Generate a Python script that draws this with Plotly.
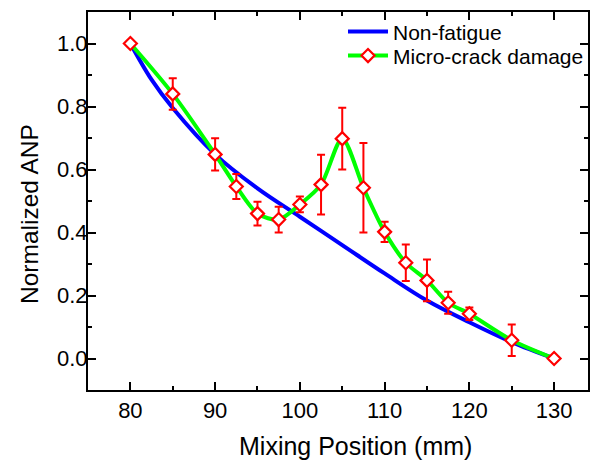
import plotly.graph_objects as go

# Non-fatigue reference curve
nf_x = [80, 82.5, 85, 90, 95, 100, 105, 110, 115, 120, 125, 130]
nf_y = [1.0, 0.885, 0.795, 0.648, 0.54, 0.45, 0.36, 0.27, 0.184, 0.115, 0.052, 0.0]

# Micro-crack damage measurements
mc_x = [80, 85, 90, 92.5, 95, 97.5, 100, 102.5, 105, 107.5, 110, 112.5, 115, 117.5, 120, 125, 130]
mc_y = [1.0, 0.84, 0.648, 0.546, 0.46, 0.441, 0.489, 0.552, 0.698, 0.542, 0.402, 0.304, 0.248, 0.177, 0.142, 0.058, 0.0]
mc_err = [0.0, 0.05, 0.051, 0.04, 0.038, 0.041, 0.025, 0.095, 0.098, 0.142, 0.032, 0.058, 0.066, 0.035, 0.02, 0.05, 0.0]

x_ticks = [80, 90, 100, 110, 120, 130]
y_ticks = [0.0, 0.2, 0.4, 0.6, 0.8, 1.0]

FONT = "Liberation Sans, Arial, sans-serif"

fig = go.Figure()
fig.add_trace(go.Scatter(
    x=nf_x, y=nf_y, mode="lines", name="Non-fatigue", legend="legend",
    line=dict(color="#0000ff", width=4, shape="spline", smoothing=1.0),
))
fig.add_trace(go.Scatter(
    x=mc_x, y=mc_y, mode="lines+markers", name="Micro-crack damage", legend="legend2",
    line=dict(color="#00ff00", width=4, shape="spline", smoothing=0.8),
    marker=dict(symbol="diamond", size=10, color="white",
                line=dict(color="#ff0000", width=2.2)),
    error_y=dict(type="data", array=mc_err, color="#ff0000", thickness=2, width=4),
))

axis_common = dict(
    showline=True, linecolor="black", linewidth=2, mirror="ticks",
    ticks="inside", ticklen=8, tickwidth=1.5, tickcolor="black",
    showgrid=False, zeroline=False,
    tickfont=dict(family=FONT, size=22, color="black"),
)

fig.update_xaxes(
    range=[75, 134.0], tickvals=x_ticks, ticktext=[str(v) for v in x_ticks],
    minor=dict(ticks="inside", ticklen=4, tickwidth=1.5, dtick=5, tick0=75, tickcolor="black"),
    **axis_common,
)
fig.update_yaxes(
    range=[-0.1, 1.1], tickvals=y_ticks, ticktext=[f"{v:.1f}" for v in y_ticks],
    minor=dict(ticks="inside", ticklen=4, tickwidth=1.5, dtick=0.1, tick0=-0.1, tickcolor="black"),
    ticklabelstandoff=-6,
    **axis_common,
)

fig.add_annotation(
    text="Mixing Position (mm)", xref="paper", yref="paper",
    x=(357 - 88) / 502, y=-(447 - 390.5) / 378.5, xanchor="center", yanchor="middle",
    showarrow=False, font=dict(family=FONT, size=25, color="black"),
)
fig.add_annotation(
    text="Normalized ANP", xref="paper", yref="paper", textangle=-90,
    x=-(88 - 29) / 502, y=(390.5 - 214) / 378.5, xanchor="center", yanchor="middle",
    showarrow=False, font=dict(family=FONT, size=24.5, color="black"),
)

legend_common = dict(xanchor="left", yanchor="middle", bgcolor="rgba(0,0,0,0)",
                     font=dict(family=FONT, size=21, color="black"), itemwidth=40)

fig.update_layout(
    width=590, height=465,
    margin=dict(l=88, r=0, t=12, b=75),
    paper_bgcolor="white", plot_bgcolor="white",
    showlegend=True,
    legend=dict(x=0.51, y=(390.5 - 32) / 378.5, **legend_common),
    legend2=dict(x=0.51, y=(390.5 - 56) / 378.5, **legend_common),
)

fig.write_html("out.html")
